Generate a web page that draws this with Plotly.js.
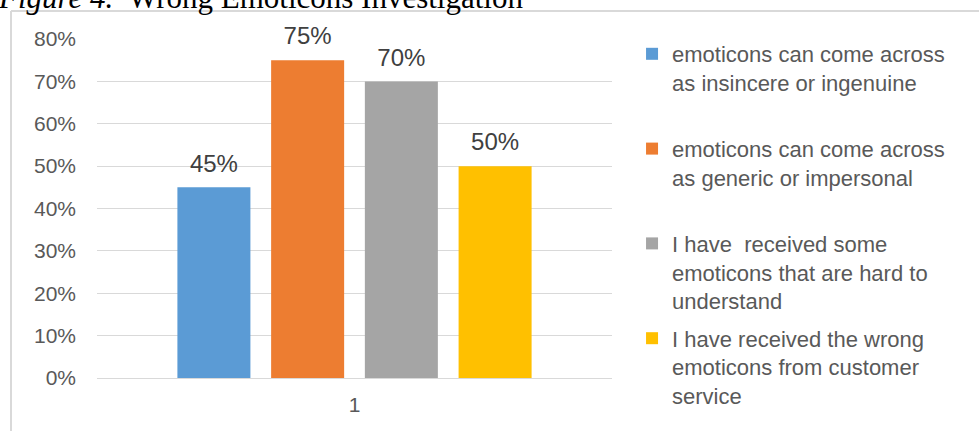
<!DOCTYPE html>
<html>
<head>
<meta charset="utf-8">
<script src="https://cdn.plot.ly/plotly-3.0.1.min.js"></script>
<style>
html,body{margin:0;padding:0;background:#fff;}
#chart{width:979px;height:431px;}
</style>
</head>
<body>
<div id="chart"></div>
<script>
const categories = ["1"];
const seriesNames = [
  "emoticons can come across<br>as insincere or ingenuine<br> ",
  "emoticons can come across<br>as generic or impersonal<br> ",
  "I have  received some<br>emoticons that are hard to<br>understand",
  "I have received the wrong<br>emoticons from customer<br>service"
];
const seriesValues = [[0.45], [0.75], [0.70], [0.50]];
const seriesColors = ["#5b9bd5", "#ed7d31", "#a5a5a5", "#ffc000"];
const tickVals = [0, 0.1, 0.2, 0.3, 0.4, 0.5, 0.6, 0.7, 0.8];
const tickText = ["0%", "10%", "20%", "30%", "40%", "50%", "60%", "70%", "80%"];

const FONT = "Liberation Sans, Arial, sans-serif";
const BARGAP = 0.272;

const barTraces = seriesNames.map((name, i) => ({
  type: "bar",
  x: categories,
  y: seriesValues[i],
  name: name,
  legendgroup: "g" + i,
  marker: {color: seriesColors[i]},
  hoverinfo: "skip"
}));

const labelTraces = seriesNames.map((name, i) => ({
  type: "scatter",
  mode: "markers+text",
  x: categories,
  y: seriesValues[i],
  text: seriesValues[i].map(v => Math.round(v * 100) + "%"),
  textposition: "top center",
  textfont: {family: FONT, size: 24, color: "#404040"},
  marker: {size: 14, opacity: 0, color: seriesColors[i]},
  cliponaxis: false,
  showlegend: false,
  legendgroup: "g" + i,
  hoverinfo: "skip"
}));

const layout = {
  width: 979,
  height: 431,
  margin: {l: 97, r: 367, t: 39, b: 53, pad: 0},
  paper_bgcolor: "#ffffff",
  plot_bgcolor: "#ffffff",
  barmode: "group",
  bargap: BARGAP,
  bargroupgap: 0.221,
  scattermode: "group",
  scattergap: BARGAP,
  showlegend: true,
  legend: {
    xref: "container", yref: "container",
    x: 0.6456, y: 1 - 33/431,
    xanchor: "left", yanchor: "top",
    font: {family: FONT, size: 22, color: "#595959"},
    traceorder: "grouped",
    tracegroupgap: 6,
    valign: "top",
    maxheight: 431,
    bgcolor: "rgba(0,0,0,0)"
  },
  xaxis: {
    type: "category",
    showgrid: false,
    showline: true,
    linecolor: "#d9d9d9",
    linewidth: 1,
    ticks: "",
    ticklabelstandoff: 8,
    tickfont: {family: FONT, size: 21, color: "#595959"},
    zeroline: false
  },
  yaxis: {
    range: [0, 0.8],
    tickvals: tickVals,
    ticktext: tickText,
    showgrid: true,
    gridcolor: "#d9d9d9",
    gridwidth: 1,
    zeroline: false,
    showline: false,
    ticks: "",
    ticklabelstandoff: 20,
    tickfont: {family: FONT, size: 21, color: "#595959"}
  },
  shapes: [
    {type: "line", xref: "paper", yref: "paper", layer: "below",
     x0: -86/515, x1: 882/515, y0: (431-53-11)/339, y1: (431-53-11)/339,
     line: {color: "#d9d9d9", width: 2}},
    {type: "line", xref: "paper", yref: "paper", layer: "below",
     x0: -86/515, x1: -86/515, y0: (431-53-11)/339, y1: -60/339,
     line: {color: "#d9d9d9", width: 2}}
  ],
  annotations: [
    {xref: "paper", yref: "paper", x: -101/515, y: (431-53-17)/339,
     xanchor: "left", yanchor: "bottom", showarrow: false,
     text: "<i>Figure 4.</i>  Wrong Emoticons Investigation",
     font: {family: "Liberation Serif, Times New Roman, serif", size: 31, color: "#000000"}}
  ]
};

Plotly.newPlot("chart", barTraces.concat(labelTraces), layout, {staticPlot: true, displayModeBar: false});
</script>
</body>
</html>
